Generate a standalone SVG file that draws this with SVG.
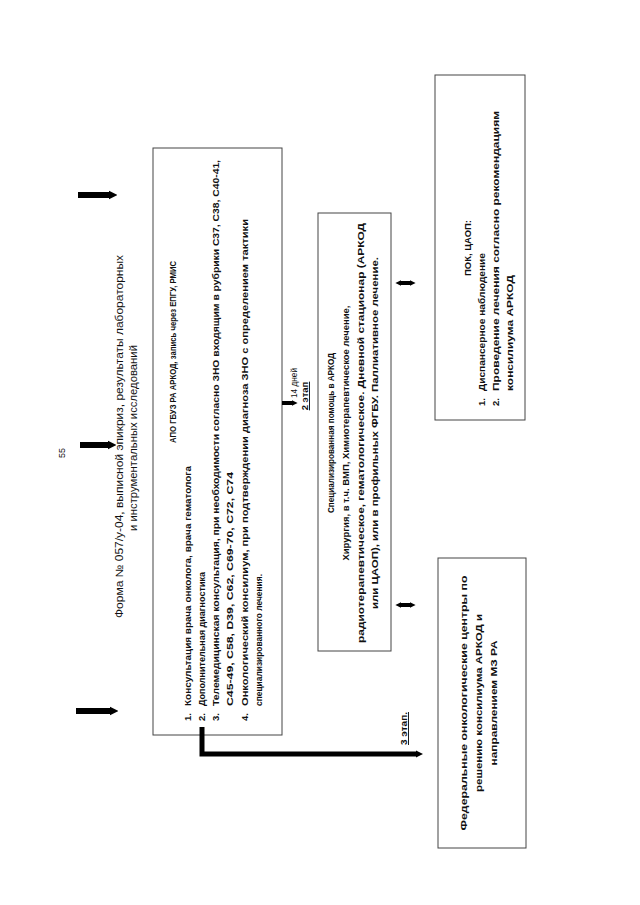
<svg xmlns="http://www.w3.org/2000/svg" width="640" height="905" viewBox="0 0 640 905">
<style>
text{font-family:"Liberation Sans","Noto Sans",sans-serif;fill:#111}
.hd{font-size:10.5px}
.bx{font-size:9.5px;font-weight:bold}
.sm{font-size:9px}
.box{fill:#fff;stroke:#444;stroke-width:1}
.arr{stroke:#000;fill:none}
</style>
<defs>
<marker id="ah" viewBox="0 0 10 10" refX="0" refY="5" markerWidth="1.4" markerHeight="2.2" orient="auto-start-reverse" markerUnits="strokeWidth">
<path d="M0,0 L10,5 L0,10 z" fill="#000"/>
</marker>
</defs>
<rect width="640" height="905" fill="#fff"/>

<g id="page-number">
<text class="sm" transform="translate(65,453) rotate(-90)" text-anchor="middle">55</text>
</g>

<g id="header">
<text class="hd" transform="translate(123,618) rotate(-90)" textLength="363" lengthAdjust="spacingAndGlyphs">Форма № 057/у-04, выписной эпикриз, результаты лабораторных</text>
<text class="hd" transform="translate(137,438) rotate(-90)" text-anchor="middle" textLength="186" lengthAdjust="spacingAndGlyphs">и инструментальных исследований</text>
</g>

<g id="box1">
<rect class="box" x="153" y="148" width="129" height="587"/>
<text class="bx" transform="translate(176,352) rotate(-90)" text-anchor="middle" textLength="182" lengthAdjust="spacingAndGlyphs">АПО ГБУЗ РА АРКОД, запись через ЕПГУ, РМИС</text>
<text class="bx" transform="translate(191,721) rotate(-90)">1.</text>
<text class="bx" transform="translate(191,706) rotate(-90)" textLength="240" lengthAdjust="spacingAndGlyphs">Консультация врача онколога, врача гематолога</text>
<text class="bx" transform="translate(205,721) rotate(-90)">2.</text>
<text class="bx" transform="translate(205,706) rotate(-90)" textLength="134" lengthAdjust="spacingAndGlyphs">Дополнительная диагностика</text>
<text class="bx" transform="translate(219,721) rotate(-90)">3.</text>
<text class="bx" transform="translate(219,706) rotate(-90)" textLength="546" lengthAdjust="spacingAndGlyphs">Телемедицинская консультация, при необходимости согласно ЗНО входящим в рубрики С37, С38, С40-41,</text>
<text class="bx" transform="translate(233,706) rotate(-90)" textLength="234" lengthAdjust="spacingAndGlyphs">С45-49, С58, D39, С62, С69-70, С72, С74</text>
<text class="bx" transform="translate(248,721) rotate(-90)">4.</text>
<text class="bx" transform="translate(248,706) rotate(-90)" textLength="487" lengthAdjust="spacingAndGlyphs">Онкологический консилиум, при подтверждении диагноза ЗНО с определением тактики</text>
<text class="bx" transform="translate(262,706) rotate(-90)" textLength="132" lengthAdjust="spacingAndGlyphs">специализированного лечения.</text>
</g>

<g id="stage2-label">
<text class="sm" transform="translate(297,398) rotate(-90)" textLength="30" lengthAdjust="spacingAndGlyphs">14 дней</text>
<text class="bx" transform="translate(308,396) rotate(-90)" text-anchor="middle" text-decoration="underline">2 этап</text>
</g>

<g id="box2">
<rect class="box" x="318" y="213" width="73" height="438"/>
<text class="bx" transform="translate(334,433) rotate(-90)" text-anchor="middle" textLength="160" lengthAdjust="spacingAndGlyphs">Специализированная  помощь  в АРКОД</text>
<text class="bx" transform="translate(349,433) rotate(-90)" text-anchor="middle" textLength="255" lengthAdjust="spacingAndGlyphs">Хирургия, в т.ч. ВМП, Химиотерапевтическое лечение,</text>
<text class="bx" transform="translate(364,433) rotate(-90)" text-anchor="middle" textLength="420" lengthAdjust="spacingAndGlyphs">радиотерапевтическое, гематологическое. Дневной стационар (АРКОД</text>
<text class="bx" transform="translate(378,433) rotate(-90)" text-anchor="middle" textLength="352" lengthAdjust="spacingAndGlyphs">или ЦАОП), или в профильных ФГБУ. Паллиативное лечение.</text>
</g>

<g id="box3">
<rect class="box" x="435" y="75" width="90" height="345"/>
<text class="bx" transform="translate(471,248) rotate(-90)" text-anchor="middle" textLength="56" lengthAdjust="spacingAndGlyphs">ПОК, ЦАОП:</text>
<text class="bx" transform="translate(485,406) rotate(-90)">1.</text>
<text class="bx" transform="translate(485,391) rotate(-90)" textLength="138" lengthAdjust="spacingAndGlyphs">Диспансерное наблюдение</text>
<text class="bx" transform="translate(499,406) rotate(-90)">2.</text>
<text class="bx" transform="translate(499,391) rotate(-90)" textLength="280" lengthAdjust="spacingAndGlyphs">Проведение лечения согласно рекомендациям</text>
<text class="bx" transform="translate(513,391) rotate(-90)" textLength="116" lengthAdjust="spacingAndGlyphs">консилиума АРКОД</text>
</g>

<g id="stage3-label">
<text class="bx" transform="translate(407,745) rotate(-90)" text-decoration="underline" textLength="33" lengthAdjust="spacingAndGlyphs">3 этап.</text>
</g>

<g id="box4">
<rect class="box" x="438" y="558" width="88" height="290"/>
<text class="bx" transform="translate(467,703) rotate(-90)" text-anchor="middle" textLength="255" lengthAdjust="spacingAndGlyphs">Федеральные онкологические центры по</text>
<text class="bx" transform="translate(482,703) rotate(-90)" text-anchor="middle" textLength="178" lengthAdjust="spacingAndGlyphs">решению консилиума АРКОД и</text>
<text class="bx" transform="translate(497,703) rotate(-90)" text-anchor="middle" textLength="125" lengthAdjust="spacingAndGlyphs">направлением МЗ РА</text>
</g>

<g id="connectors">
<line class="arr" x1="78" y1="195" x2="109" y2="195" stroke-width="6" marker-end="url(#ah)"/>
<line class="arr" x1="80" y1="445" x2="108" y2="445" stroke-width="6" marker-end="url(#ah)"/>
<line class="arr" x1="76" y1="711" x2="110" y2="711" stroke-width="6" marker-end="url(#ah)"/>
<line class="arr" x1="282" y1="403" x2="292" y2="403" stroke-width="4" marker-end="url(#ah)"/>
<line class="arr" x1="401" y1="283" x2="410" y2="283" stroke-width="4" marker-start="url(#ah)" marker-end="url(#ah)"/>
<line class="arr" x1="401" y1="605" x2="410" y2="605" stroke-width="4" marker-start="url(#ah)" marker-end="url(#ah)"/>
<path class="arr" d="M202,727 V754 H416" stroke-width="5" stroke-linejoin="miter" marker-end="url(#ah)"/>
</g>
</svg>
